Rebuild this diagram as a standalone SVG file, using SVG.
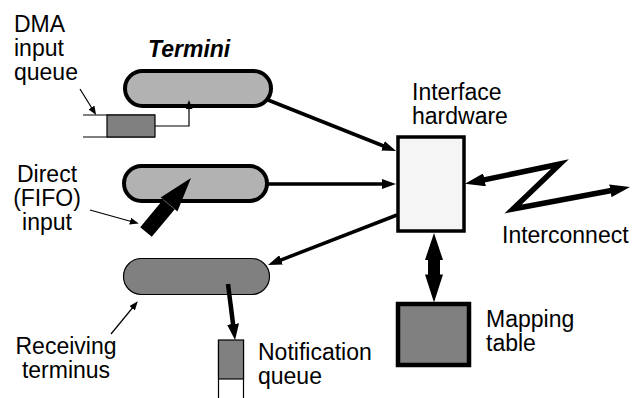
<svg xmlns="http://www.w3.org/2000/svg" width="644" height="398" viewBox="0 0 644 398">
  <style>
    text { font-family: "Liberation Sans", Arial, Helvetica, sans-serif; font-size: 23px; fill: #000; }
    .title { font-weight: bold; font-style: italic; }
    .mid { text-anchor: middle; }
    .capsule-light { fill: #b2b2b2; stroke: #000; stroke-width: 4; }
    .capsule-dark { fill: #808080; stroke: #000; stroke-width: 1.2; }
    .queue { fill: #808080; stroke: #000; stroke-width: 1.2; }
    .thin { fill: none; stroke: #000; stroke-width: 1.2; }
    .link { fill: none; stroke: #000; stroke-width: 3.5; }
  </style>
  <defs>
    <marker id="headMed" viewBox="0 0 14 10" refX="6" refY="5" markerWidth="14" markerHeight="10" markerUnits="userSpaceOnUse" orient="auto">
      <path d="M0,0 L14,5 L0,10 z" fill="#000"/>
    </marker>
    <marker id="headBig" viewBox="0 0 16 12" refX="6" refY="6" markerWidth="16" markerHeight="12" markerUnits="userSpaceOnUse" orient="auto">
      <path d="M0,0 L16,6 L0,12 z" fill="#000"/>
    </marker>
    <marker id="headZig" viewBox="0 0 20 13" refX="8" refY="6.5" markerWidth="20" markerHeight="13" markerUnits="userSpaceOnUse" orient="auto-start-reverse">
      <path d="M0,0 L20,6.5 L0,13 z" fill="#000"/>
    </marker>
    <marker id="headSmall" viewBox="0 0 9 7" refX="3" refY="3.5" markerWidth="9" markerHeight="7" markerUnits="userSpaceOnUse" orient="auto">
      <path d="M0,0 L9,3.5 L0,7 z" fill="#000"/>
    </marker>
  </defs>

  <!-- free-standing labels -->
  <g id="label-dma">
    <text x="14" y="32">DMA</text>
    <text x="14" y="56">input</text>
    <text x="14" y="80">queue</text>
  </g>
  <g id="label-termini">
    <text class="title" x="148" y="57">Termini</text>
  </g>
  <g id="label-direct">
    <text class="mid" x="47" y="182">Direct</text>
    <text class="mid" x="47" y="206">(FIFO)</text>
    <text class="mid" x="47" y="230">input</text>
  </g>
  <g id="label-receiving">
    <text class="mid" x="66" y="354">Receiving</text>
    <text class="mid" x="66" y="378">terminus</text>
  </g>
  <g id="label-interconnect">
    <text x="502" y="243">Interconnect</text>
  </g>

  <!-- termini -->
  <g id="terminus-dma">
    <rect class="capsule-light" x="125" y="71" width="146" height="35" rx="17.5"/>
  </g>
  <g id="terminus-direct">
    <rect class="capsule-light" x="124" y="166" width="143" height="35" rx="17.5"/>
  </g>
  <g id="terminus-receiving">
    <rect class="capsule-dark" x="123.5" y="258.5" width="146" height="36" rx="18"/>
  </g>

  <!-- DMA input queue -->
  <g id="dma-queue">
    <line class="thin" x1="83" y1="115" x2="155" y2="115"/>
    <line class="thin" x1="83" y1="137" x2="155" y2="137"/>
    <rect class="queue" x="107" y="115" width="48" height="22"/>
  </g>

  <!-- notification queue -->
  <g id="notification-queue">
    <line class="thin" x1="218.5" y1="340" x2="218.5" y2="398"/>
    <line class="thin" x1="243.5" y1="340" x2="243.5" y2="398"/>
    <rect class="queue" x="218.5" y="340" width="25" height="39"/>
    <text x="258" y="360">Notification</text>
    <text x="258" y="384">queue</text>
  </g>

  <!-- interface hardware -->
  <g id="interface-hardware">
    <rect x="398" y="137" width="66" height="94" fill="#f5f5f5" stroke="#000" stroke-width="3.5"/>
    <text x="412" y="100">Interface</text>
    <text x="412" y="124">hardware</text>
  </g>

  <!-- mapping table -->
  <g id="mapping-table">
    <rect x="398" y="304" width="71" height="61" fill="#808080" stroke="#000" stroke-width="4.5"/>
    <text x="486" y="327">Mapping</text>
    <text x="486" y="351">table</text>
  </g>

  <!-- connectors -->
  <g id="connectors">
    <!-- pointer arrows for the labels -->
    <line class="thin" x1="80" y1="89" x2="93" y2="110" marker-end="url(#headSmall)"/>
    <line class="thin" x1="90" y1="210" x2="133" y2="222" marker-end="url(#headSmall)"/>
    <line class="thin" x1="111" y1="334" x2="134" y2="306" marker-end="url(#headSmall)"/>

    <!-- DMA queue feeds its terminus -->
    <polyline class="thin" points="155,126 189,126 189,106" marker-end="url(#headSmall)"/>

    <!-- direct FIFO input (broad arrow) -->
    <polygon points="140.2,227.2 151.8,236.8 174.8,209.2 177.4,211.4 191,178 160.6,197.4 163.2,199.6" fill="#000"/>
    <line x1="163.2" y1="199.6" x2="174.8" y2="209.2" stroke="#777" stroke-width="0.8"/>

    <!-- termini to / from the interface -->
    <line class="link" x1="268" y1="100" x2="388.6" y2="148" marker-end="url(#headMed)"/>
    <line class="link" x1="268" y1="184" x2="388" y2="184" marker-end="url(#headMed)"/>
    <line class="link" x1="397" y1="215" x2="275.5" y2="262.1" marker-end="url(#headMed)"/>

    <!-- receiving terminus posts to notification queue -->
    <line x1="228" y1="284" x2="233.8" y2="330" stroke="#000" stroke-width="4.5" marker-end="url(#headBig)"/>

    <!-- interconnect zigzag -->
    <polyline points="476.7,181.4 560,164 513,209 618.2,189.3" fill="none" stroke="#000" stroke-width="5.5" stroke-linejoin="miter" stroke-miterlimit="10" marker-start="url(#headZig)" marker-end="url(#headZig)"/>

    <!-- interface <-> mapping table -->
    <polygon points="434,233 443,260 440,260 440,274.5 443,274.5 434,302.5 425,274.5 428,274.5 428,260 425,260" fill="#000"/>
  </g>
</svg>
